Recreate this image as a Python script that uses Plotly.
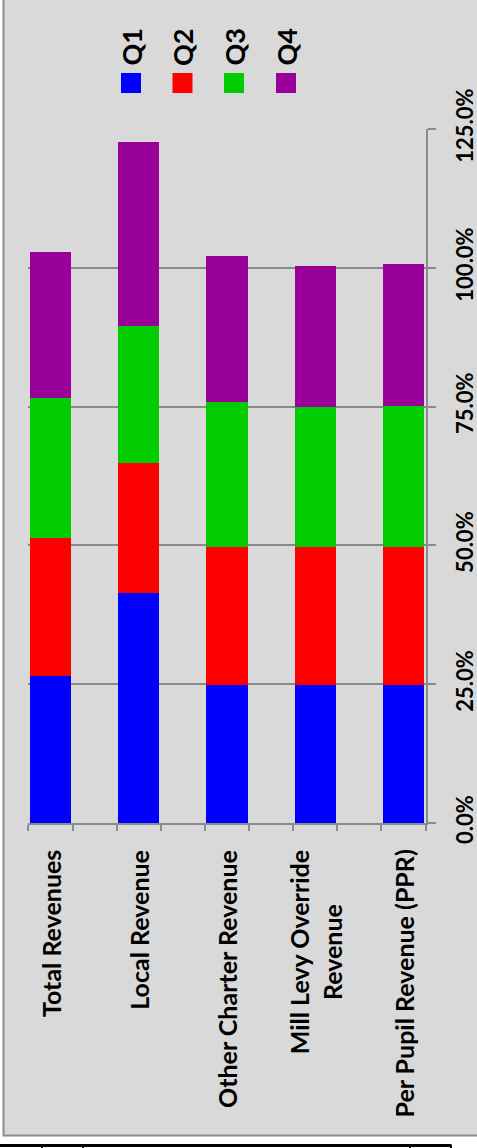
import plotly.graph_objects as go

categories = ["Total Revenues", "Local Revenue", "Other Charter Revenue",
              "Mill Levy Override<br>Revenue", "Per Pupil Revenue (PPR)"]
series_names = ["Q1", "Q2", "Q3", "Q4"]
q1 = [0.264, 0.414, 0.248, 0.248, 0.248]
q2 = [0.249, 0.234, 0.250, 0.250, 0.250]
q3 = [0.253, 0.248, 0.260, 0.252, 0.253]
q4 = [0.263, 0.331, 0.264, 0.254, 0.256]
colors = ["#0000FF", "#FF0000", "#00CC00", "#990099"]
value_ticks = [0, 0.25, 0.5, 0.75, 1.0, 1.25]
value_ticktext = ["0.0%", "25.0%", "50.0%", "75.0%", "100.0%", "125.0%"]

W, H = 477, 1148
L, R, T, B = 28, 51, 129, 325
PW, PH = W - L - R, H - T - B


def px(x):
    return (x - L) / PW


def py(y):
    return (H - B - y) / PH


FONT = "Lato"
fig = go.Figure()
xs = list(range(len(categories)))
for name, vals, c in zip(series_names, [q1, q2, q3, q4], colors):
    fig.add_trace(go.Bar(x=xs, y=vals, name=name, marker=dict(color=c, line=dict(width=0)),
                         width=0.465, showlegend=False))

axis_col = "#8a8a8a"
boundaries = [i * 0.5 - 0.25 for i in range(10)]
fig.update_layout(
    width=W, height=H, barmode="stack",
    margin=dict(l=L, r=R, t=T, b=B, pad=0, autoexpand=False),
    paper_bgcolor="white", plot_bgcolor="rgba(0,0,0,0)",
    font=dict(family=FONT, color="black"),
    xaxis=dict(range=[-0.255, 4.255], tickmode="array", tickvals=boundaries,
               ticktext=[""] * len(boundaries), ticks="outside", ticklen=6,
               tickwidth=2, tickcolor=axis_col, showline=True, linecolor=axis_col,
               linewidth=2, showgrid=False, zeroline=False, fixedrange=True,
               automargin=False),
    yaxis=dict(range=[0, 1.25], side="right", tickmode="array", tickvals=value_ticks,
               ticktext=value_ticktext, tickangle=-90, ticks="outside", ticklen=8,
               tickwidth=2, tickcolor=axis_col, showline=True, linecolor=axis_col,
               linewidth=2, showgrid=True, gridcolor=axis_col, gridwidth=2,
               zeroline=False, automargin=False,
               tickfont=dict(family=FONT, size=22, color="black", weight="bold"),
               ticklabelstandoff=11),
)

shapes = [
    dict(type="rect", xref="paper", yref="paper", x0=px(3.5), x1=px(480), y0=py(1135.5),
         y1=py(-10), fillcolor="#D9D9D9", line=dict(color="#8c8c8c", width=2), layer="below"),
    dict(type="line", xref="paper", yref="paper", x0=px(0), x1=px(451.5), y0=py(1145.5),
         y1=py(1145.5), line=dict(color="black", width=3)),
]
for vx in [42, 83, 410, 451]:
    shapes.append(dict(type="line", xref="paper", yref="paper", x0=px(vx), x1=px(vx),
                       y0=py(1145), y1=py(1149), line=dict(color="black", width=2)))
# legend squares
leg_x = [131, 182.5, 234, 286]
for lx, c in zip(leg_x, colors):
    shapes.append(dict(type="rect", xref="paper", yref="paper", x0=px(lx - 10), x1=px(lx + 10),
                       y0=py(93), y1=py(73), fillcolor=c, line=dict(width=0)))

annotations = []
for lx, name in zip(leg_x, series_names):
    annotations.append(dict(x=px(lx), y=py(47.5), xref="paper", yref="paper", text=name,
                            showarrow=False, textangle=-90, xanchor="center", yanchor="middle",
                            font=dict(family=FONT, size=27, color="black", weight="bold")))
for i, cat in enumerate(categories):
    annotations.append(dict(x=i, y=py(848), xref="x", yref="paper", text=cat,
                            showarrow=False, textangle=-90, xanchor="center", yanchor="top",
                            align="center",
                            font=dict(family=FONT, size=25, color="black", weight="bold")))

fig.update_layout(shapes=shapes, annotations=annotations)
fig.write_html("out.html")
